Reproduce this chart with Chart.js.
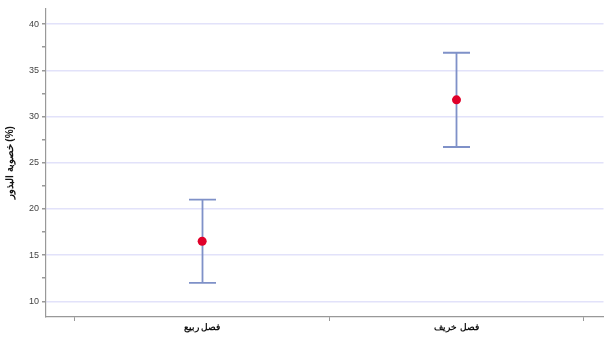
<!DOCTYPE html>
<html>
<head>
<meta charset="utf-8">
<script src="https://cdn.jsdelivr.net/npm/chart.js@4/dist/chart.umd.min.js"></script>
<style>
  html, body { margin: 0; padding: 0; background: #fff; }
  #wrap { width: 608px; height: 339px; }
</style>
</head>
<body>
<div id="wrap"><canvas id="c" width="608" height="339"></canvas></div>
<script>
// Seasons and seed fertility (%) with lower/upper bounds
const categories = ['فصل ربيع', 'فصل خريف'];
const means = [16.5, 31.8];
const lowers = [12.0, 26.7];
const uppers = [21.0, 36.9];
const yTickValues = [10, 12.5, 15, 17.5, 20, 22.5, 25, 27.5, 30, 32.5, 35, 37.5, 40];
const yTitle = 'خصوبة البذور (%)';

const points = categories.map((c, i) => ({ x: i + 0.5, y: means[i] }));

// Draws vertical whiskers with caps for each category
const errorBars = {
  id: 'errorBars',
  beforeDatasetsDraw(chart) {
    const { ctx, scales: { x, y } } = chart;
    ctx.save();
    ctx.strokeStyle = '#7f91c8';
    ctx.lineWidth = 1.8;
    const cap = 13.5;
    categories.forEach((c, i) => {
      const px = Math.round(x.getPixelForValue(i + 0.5)) + 0.5;
      const yl = y.getPixelForValue(lowers[i]);
      const yu = y.getPixelForValue(uppers[i]);
      ctx.beginPath();
      ctx.moveTo(px, yu); ctx.lineTo(px, yl);
      ctx.moveTo(px - cap, yu); ctx.lineTo(px + cap, yu);
      ctx.moveTo(px - cap, yl); ctx.lineTo(px + cap, yl);
      ctx.stroke();
    });
    ctx.restore();
  }
};

new Chart(document.getElementById('c'), {
  type: 'scatter',
  data: {
    datasets: [{
      data: points,
      pointRadius: 4.5,
      pointHoverRadius: 4.5,
      pointBackgroundColor: '#e0002a',
      pointBorderColor: '#e0002a',
      pointBorderWidth: 0
    }]
  },
  plugins: [errorBars],
  options: {
    responsive: false,
    animation: false,
    layout: { padding: { top: -2, right: 3, left: 0, bottom: 0 } },
    plugins: { legend: { display: false }, tooltip: { enabled: false } },
    scales: {
      x: {
        type: 'linear',
        min: -0.114,
        max: 2.078,
        afterBuildTicks(scale) {
          scale.ticks = [0, 0.5, 1, 1.5, 2].map(v => ({ value: v }));
        },
        afterFit(scale) { scale.height = 22; },
        border: { display: true, color: '#999', width: 1.2 },
        grid: {
          drawOnChartArea: false,
          drawTicks: true,
          tickLength: 4,
          tickColor: ctx => (Number.isInteger(ctx.tick.value) ? '#999' : 'rgba(0,0,0,0)')
        },
        ticks: {
          autoSkip: false,
          maxRotation: 0,
          padding: 1,
          color: '#111',
          font: { family: 'Liberation Sans, Arial, sans-serif', size: 9, weight: 'bold' },
          callback: v => {
            const i = v - 0.5;
            return Number.isInteger(i) && categories[i] ? categories[i] : '';
          }
        }
      },
      y: {
        min: 8.3,
        max: 41.7,
        afterBuildTicks(scale) {
          scale.ticks = yTickValues.map(v => ({ value: v }));
        },
        afterFit(scale) { scale.width = 46; },
        border: { display: true, color: '#999', width: 1.2 },
        grid: {
          color: ctx => (ctx.tick && ctx.tick.value % 5 === 0 ? '#e2e2fa' : 'rgba(0,0,0,0)'),
          lineWidth: 1.5,
          drawTicks: true,
          tickLength: 4,
          tickColor: '#999'
        },
        ticks: {
          autoSkip: false,
          padding: 3,
          color: '#444',
          font: { family: 'Liberation Sans, Arial, sans-serif', size: 9 },
          callback: v => (v % 5 === 0 ? String(v) : '')
        },
        title: {
          display: true,
          text: yTitle,
          color: '#111',
          padding: { top: 4, bottom: 0 },
          font: { family: 'Liberation Sans, Arial, sans-serif', size: 10, weight: 'bold' }
        }
      }
    }
  }
});
</script>
</body>
</html>
